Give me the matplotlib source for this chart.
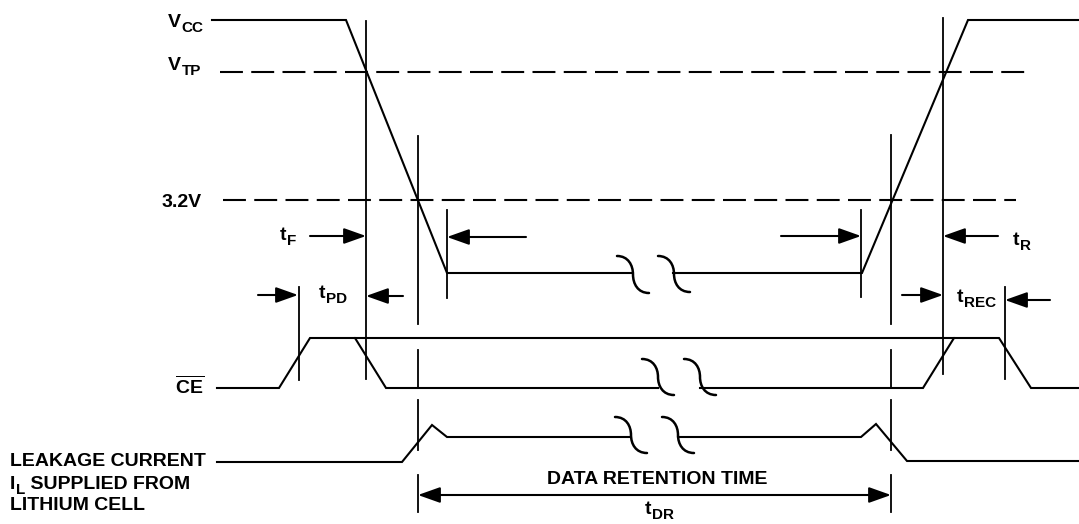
import matplotlib
matplotlib.use("Agg")
import matplotlib.pyplot as plt
from matplotlib.path import Path
from matplotlib.patches import PathPatch
import numpy as np

plt.rcParams["font.family"] = ["Liberation Sans", "DejaVu Sans"]
plt.rcParams["mathtext.fontset"] = "custom"
plt.rcParams["mathtext.rm"] = "Liberation Sans:bold"
plt.rcParams["mathtext.bf"] = "Liberation Sans:bold"

# ------------------------------------------------------------------
# Waveforms (time axis left->right, level axis top->down, in px)
# ------------------------------------------------------------------
VCC_T = [212, 346, 447, 862, 968, 1079]
VCC_Y = [20, 20, 273, 273, 20, 20]
VCC_BREAK = [632, 673]

CE_T = [217, 279, 310, 355, 386, 923, 954, 999, 1031, 1079]
CE_Y = [388, 388, 338, 338, 388, 388, 338, 338, 388, 388]
CE_HOLD = [355, 954]          # high level carried through retention
CE_BREAK = [658, 700]

IL_T = [217, 402, 432, 447, 861, 876, 907, 1079]
IL_Y = [462, 462, 425, 437, 437, 424, 461, 461]
IL_BREAK = [631, 678]

# threshold levels
V_TP = 72
V_32 = 200

# timing marks
T_CE_HI = 299      # CE reaches high before power down
T_VTP_FALL = 366
T_32_FALL = 418
T_LOW_START = 447
T_LOW_END = 861
T_32_RISE = 891
T_VTP_RISE = 943
T_CE_LO = 1005     # CE released after recovery

K = "black"
LW = 1.5

fig = plt.figure(figsize=(10.79, 5.24), dpi=100)
fig.patch.set_facecolor("white")
ax = fig.add_axes([0, 0, 1, 1])
ax.set_xlim(0, 1079)
ax.set_ylim(524, 0)
ax.axis("off")


def split_at(xs, ys, gap):
    x0, x1 = gap
    left = [(x, y) for x, y in zip(xs, ys) if x < x0] + [(x0, np.interp(x0, xs, ys))]
    right = [(x1, np.interp(x1, xs, ys))] + [(x, y) for x, y in zip(xs, ys) if x > x1]
    return left, right


def draw_wave(xs, ys, gap):
    for part in split_at(xs, ys, gap):
        px, py = zip(*part)
        ax.plot(px, py, color=K, lw=LW, solid_joinstyle="miter")


def squiggle(cx, y0, y1, w=16):
    h = y1 - y0
    ym = (y0 + y1) / 2
    verts = [(cx - w, y0), (cx - 0.3 * w, y0), (cx, y0 + 0.25 * h), (cx, ym),
             (cx, ym + 0.25 * h), (cx + 0.3 * w, y1), (cx + w, y1)]
    codes = [Path.MOVETO] + [Path.CURVE4] * 6
    ax.add_patch(PathPatch(Path(verts, codes), fill=False, lw=1.8, edgecolor=K,
                           capstyle="round"))


def arrow(tail, head, y, style="-|>"):
    ax.annotate("", xy=(head, y), xytext=(tail, y),
                arrowprops=dict(arrowstyle=style + ",head_length=0.9,head_width=0.32",
                                lw=LW, color=K, shrinkA=0, shrinkB=0,
                                mutation_scale=15))


def vline(x, y0, y1, lw=1.3):
    ax.plot([x, x], [y0, y1], color=K, lw=lw)


def label(x, y, main, sub=None, rest=None, size=14, subsize=11):
    t = ax.text(x, y, main, fontsize=size, fontweight="bold", ha="left", va="baseline")
    if sub:
        s = ax.annotate(sub, xy=(1, 0), xycoords=t, xytext=(0.3, -0.8),
                        textcoords="offset points", fontsize=subsize,
                        fontweight="bold", va="baseline", ha="left")
        if rest:
            ax.annotate(rest, xy=(1, 0), xycoords=(s, t), fontsize=size,
                        fontweight="bold", va="bottom", ha="left")
    return t


# --- waveforms ---
draw_wave(VCC_T, VCC_Y, VCC_BREAK)
draw_wave(CE_T, CE_Y, CE_BREAK)
ax.plot(CE_HOLD, [CE_Y[2], CE_Y[2]], color=K, lw=LW)
draw_wave(IL_T, IL_Y, IL_BREAK)

squiggle(VCC_BREAK[0] + 1, 256, 293)
squiggle(VCC_BREAK[1] + 1, 256, 292)
squiggle(CE_BREAK[0], 359, 395)
squiggle(CE_BREAK[1], 359, 395)
squiggle(IL_BREAK[0], 417, 453)
squiggle(IL_BREAK[1], 417, 453)

# --- threshold dashed lines ---
ax.plot([220, 1031], [V_TP, V_TP], color=K, lw=LW, ls=(0, (11, 4)))
ax.plot([223, 1016], [V_32, V_32], color=K, lw=LW, ls=(0, (11, 4)))

# --- timing marks ---
vline(T_VTP_FALL, 21, 379)
vline(T_VTP_RISE, 18, 374)
vline(T_LOW_START, 210, 298)
vline(T_LOW_END, 210, 297)
vline(T_CE_HI, 287, 380)
vline(T_CE_LO, 287, 379)
for x, top in ((T_32_FALL, 136), (T_32_RISE, 135)):
    for y0, y1 in ((top, 324), (350, 387), (400, 450), (475, 512)):
        vline(x, y0, y1)

# --- arrows ---
arrow(310, T_VTP_FALL, 236)
arrow(526, T_LOW_START, 237)
arrow(781, T_LOW_END, 236)
arrow(998, T_VTP_RISE, 236)
arrow(258, T_CE_HI - 1, 295)
arrow(403, T_VTP_FALL, 296)
arrow(902, T_VTP_RISE, 295)
arrow(1050, T_CE_LO, 300)
arrow(T_32_FALL, T_32_RISE, 495, style="<|-|>")

# --- labels ---
label(168, 27, "V", "CC")
label(168, 70, "V", "TP")
label(162, 207, "3.2V")
label(280, 240, "t", "F")
label(319, 298, "t", "PD")
label(1013, 245, "t", "R")
label(957, 302, "t", "REC")
label(645, 514, "t", "DR")
ax.text(175, 394, r"$\overline{\mathbf{CE}}$", fontsize=14, ha="left", va="baseline")
label(10, 466, "LEAKAGE CURRENT")
label(10, 489, "I", "L", " SUPPLIED FROM")
label(10, 510, "LITHIUM CELL")
ax.text(547, 484, "DATA RETENTION TIME", fontsize=14, fontweight="bold",
        ha="left", va="baseline")

fig.savefig("out.png", dpi=100, facecolor="white")
